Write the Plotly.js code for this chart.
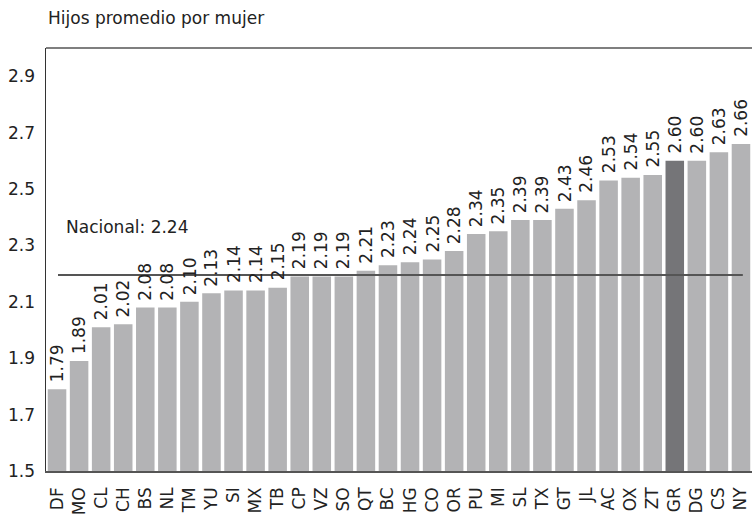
<!DOCTYPE html>
<html>
<head>
<meta charset="utf-8">
<script src="https://cdn.plot.ly/plotly-3.0.1.min.js"></script>
<style>html,body{margin:0;padding:0;background:#fff;}#chart{width:752px;height:518px;}</style>
</head>
<body>
<div id="chart"></div>
<script>
const states = ["DF","MO","CL","CH","BS","NL","TM","YU","SI","MX","TB","CP","VZ","SO","QT","BC","HG","CO","OR","PU","MI","SL","TX","GT","JL","AC","OX","ZT","GR","DG","CS","NY"];
const fertility = [1.79,1.89,2.01,2.02,2.08,2.08,2.10,2.13,2.14,2.14,2.15,2.19,2.19,2.19,2.21,2.23,2.24,2.25,2.28,2.34,2.35,2.39,2.39,2.43,2.46,2.53,2.54,2.55,2.60,2.60,2.63,2.66];
const highlight = "GR";
const nationalValue = 2.24;
const nationalLineY = 2.195;
const yTicks = [1.5,1.7,1.9,2.1,2.3,2.5,2.7,2.9];
const baseValue = 1.5;

const FONT = "DejaVu Sans, sans-serif";
const colors = states.map(s => s === highlight ? "#757578" : "#b3b3b5");

const trace = {
  type: "bar",
  x: states,
  y: fertility.map(v => v - baseValue),
  base: baseValue,
  marker: {color: colors, line: {width: 0}},
  hoverinfo: "none"
};

const valueLabels = states.map((s, i) => ({
  xref: "x", yref: "y", x: s, y: fertility[i],
  text: fertility[i].toFixed(2), textangle: -90,
  xanchor: "center", yanchor: "bottom", yshift: 5,
  showarrow: false,
  font: {family: FONT, size: 17, color: "#222"}
}));

const layout = {
  width: 752, height: 518,
  margin: {l: 46, r: 0, t: 48, b: 47},
  paper_bgcolor: "#fff", plot_bgcolor: "#fff",
  showlegend: false,
  bargap: 0.16,
  font: {family: FONT, color: "#222"},
  xaxis: {
    type: "category",
    range: [-0.5, states.length - 0.5],
    showline: true, linecolor: "#555", linewidth: 1.5,
    ticks: "", tickangle: -90, ticklabelstandoff: 8,
    tickfont: {family: FONT, size: 17, color: "#222"},
    showgrid: false, zeroline: false, mirror: false
  },
  yaxis: {
    range: [1.5, 3.0],
    tickvals: yTicks,
    ticktext: yTicks.map(v => v.toFixed(1)),
    showline: true, linecolor: "#333", linewidth: 1.5,
    ticks: "", ticklabelstandoff: 6,
    tickfont: {family: FONT, size: 17, color: "#222"},
    showgrid: false, zeroline: false
  },
  shapes: [
    {type: "line", xref: "paper", yref: "paper", x0: 0, x1: 1, y0: 1, y1: 1, line: {color: "#555", width: 1.5}},
    {type: "line", xref: "paper", yref: "y", x0: 0.017, x1: 0.987, y0: nationalLineY, y1: nationalLineY, line: {color: "#555", width: 2}}
  ],
  annotations: [
    {xref: "paper", yref: "paper", x: 0.0, y: 1.071, xanchor: "left", yanchor: "middle", showarrow: false,
     text: "Hijos promedio por mujer", font: {family: FONT, size: 17, color: "#222"}},
    {xref: "paper", yref: "y", x: 0.025, y: 2.365, xanchor: "left", yanchor: "middle", showarrow: false,
     text: "Nacional: " + nationalValue.toFixed(2), font: {family: FONT, size: 17, color: "#222"}}
  ].concat(valueLabels)
};

Plotly.newPlot("chart", [trace], layout, {displayModeBar: false, staticPlot: true});
</script>
</body>
</html>
